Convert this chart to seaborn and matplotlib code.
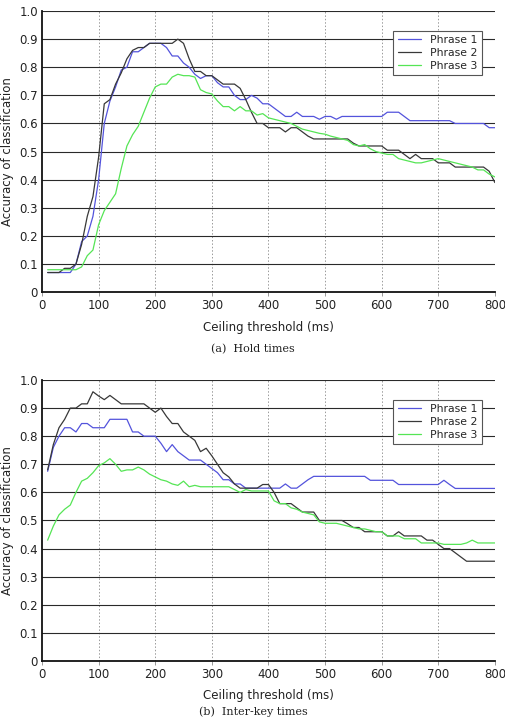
import numpy as np
import pandas as pd
import matplotlib
matplotlib.use("Agg")
import matplotlib.pyplot as plt
import seaborn as sns

thresholds = list(range(10, 810, 10))
series_names = ["Phrase 1", "Phrase 2", "Phrase 3"]

hold_p1 = [0.07,0.07,0.07,0.07,0.07,0.10,0.18,0.20,0.27,0.40,
           0.60,0.68,0.73,0.79,0.80,0.855,0.855,0.87,0.885,0.885,
           0.885,0.87,0.84,0.84,0.815,0.80,0.775,0.76,0.77,0.77,
           0.745,0.73,0.73,0.70,0.685,0.685,0.70,0.69,0.67,0.67,
           0.655,0.64,0.625,0.625,0.64,0.625,0.625,0.625,0.615,0.625,
           0.625,0.615,0.625,0.625,0.625,0.625,0.625,0.625,0.625,0.625,
           0.64,0.64,0.64,0.625,0.61,0.61,0.61,0.61,0.61,0.61,
           0.61,0.61,0.60,0.60,0.60,0.60,0.60,0.60,0.585,0.585]
hold_p2 = [0.07,0.07,0.07,0.085,0.085,0.10,0.17,0.27,0.34,0.48,
           0.67,0.685,0.74,0.78,0.83,0.86,0.87,0.87,0.885,0.885,
           0.885,0.885,0.885,0.90,0.885,0.83,0.785,0.785,0.77,0.77,
           0.755,0.74,0.74,0.74,0.725,0.685,0.64,0.60,0.60,0.585,
           0.585,0.585,0.57,0.585,0.585,0.57,0.555,0.545,0.545,0.545,
           0.545,0.545,0.545,0.545,0.53,0.52,0.52,0.52,0.52,0.52,
           0.505,0.505,0.505,0.49,0.475,0.49,0.475,0.475,0.475,0.46,
           0.46,0.46,0.445,0.445,0.445,0.445,0.445,0.445,0.43,0.39]
hold_p3 = [0.08,0.08,0.08,0.08,0.08,0.08,0.09,0.13,0.15,0.24,
           0.29,0.32,0.35,0.44,0.52,0.56,0.59,0.64,0.69,0.73,
           0.74,0.74,0.765,0.775,0.77,0.77,0.765,0.72,0.71,0.705,
           0.68,0.66,0.66,0.645,0.66,0.645,0.645,0.63,0.635,0.62,
           0.615,0.61,0.605,0.60,0.59,0.58,0.575,0.57,0.565,0.562,
           0.555,0.55,0.545,0.54,0.525,0.52,0.525,0.51,0.50,0.495,
           0.49,0.49,0.475,0.47,0.465,0.46,0.46,0.465,0.47,0.475,
           0.47,0.465,0.46,0.455,0.45,0.445,0.435,0.435,0.42,0.41]

ik_p1 = [0.675,0.76,0.80,0.83,0.83,0.815,0.845,0.845,0.83,0.83,
         0.83,0.86,0.86,0.86,0.86,0.815,0.815,0.80,0.80,0.80,
         0.775,0.745,0.77,0.745,0.73,0.715,0.715,0.715,0.70,0.685,
         0.67,0.645,0.645,0.63,0.63,0.615,0.615,0.615,0.615,0.615,
         0.615,0.615,0.63,0.615,0.615,0.63,0.645,0.657,0.657,0.657,
         0.657,0.657,0.657,0.657,0.657,0.657,0.657,0.643,0.643,0.643,
         0.643,0.643,0.628,0.628,0.628,0.628,0.628,0.628,0.628,0.628,
         0.643,0.628,0.614,0.614,0.614,0.614,0.614,0.614,0.614,0.614]
ik_p2 = [0.68,0.77,0.83,0.86,0.90,0.90,0.915,0.915,0.958,0.943,
         0.93,0.945,0.93,0.915,0.915,0.915,0.915,0.915,0.90,0.885,
         0.90,0.87,0.845,0.845,0.815,0.80,0.785,0.745,0.757,0.73,
         0.70,0.67,0.655,0.63,0.615,0.615,0.615,0.615,0.628,0.628,
         0.60,0.56,0.56,0.56,0.545,0.53,0.53,0.53,0.50,0.50,
         0.50,0.50,0.50,0.488,0.475,0.475,0.46,0.46,0.46,0.46,
         0.445,0.445,0.46,0.445,0.445,0.445,0.445,0.43,0.43,0.415,
         0.40,0.40,0.385,0.37,0.355,0.355,0.355,0.355,0.355,0.355]
ik_p3 = [0.43,0.48,0.52,0.54,0.555,0.60,0.64,0.65,0.67,0.695,
         0.705,0.72,0.70,0.675,0.68,0.68,0.69,0.68,0.665,0.655,
         0.645,0.64,0.63,0.625,0.64,0.62,0.625,0.62,0.62,0.62,
         0.62,0.62,0.62,0.61,0.60,0.61,0.605,0.605,0.605,0.605,
         0.57,0.56,0.56,0.545,0.54,0.53,0.525,0.52,0.495,0.49,
         0.49,0.49,0.485,0.48,0.475,0.47,0.47,0.465,0.46,0.46,
         0.445,0.445,0.445,0.435,0.435,0.435,0.42,0.42,0.42,0.42,
         0.415,0.415,0.415,0.415,0.42,0.43,0.42,0.42,0.42,0.42]

x_ticks = [0, 100, 200, 300, 400, 500, 600, 700, 800]
y_ticks = [0, 0.1, 0.2, 0.3, 0.4, 0.5, 0.6, 0.7, 0.8, 0.9, 1.0]
y_tick_labels = ["0", "0.1", "0.2", "0.3", "0.4", "0.5", "0.6", "0.7", "0.8", "0.9", "1.0"]
captions = ["(a)  Hold times", "(b)  Inter-key times"]
x_label = "Ceiling threshold (ms)"
y_label = "Accuracy of classification"

palette = {"Phrase 1": "#5353dc", "Phrase 2": "#383838", "Phrase 3": "#55e555"}

sns.set_theme(style="white")
plt.rcParams["font.family"] = ["DejaVu Sans"]

fig = plt.figure(figsize=(5.06, 7.18), dpi=100)
ax_top = fig.add_axes([0.083, 0.593, 0.895, 0.3917])
ax_bot = fig.add_axes([0.083, 0.0794, 0.895, 0.3914])


def make_df(p1, p2, p3):
    frames = []
    for name, vals in zip(series_names, [p1, p2, p3]):
        frames.append(pd.DataFrame({"threshold": thresholds, "accuracy": vals, "series": name}))
    return pd.concat(frames, ignore_index=True)


panels = [(ax_top, make_df(hold_p1, hold_p2, hold_p3)),
          (ax_bot, make_df(ik_p1, ik_p2, ik_p3))]

for ax, df in panels:
    for yv in y_ticks[1:]:
        ax.axhline(yv, color="#2a2a2a", lw=0.8, zorder=0.5)
    for xv in x_ticks[1:]:
        ax.axvline(xv, color="#9a9a9a", lw=0.7, ls=(0, (1.5, 2)), zorder=0.4)
    sns.lineplot(data=df, x="threshold", y="accuracy", hue="series",
                 palette=palette, linewidth=0.9, ax=ax, zorder=3)
    ax.set_xlim(0, 800)
    ax.set_ylim(0, 1.0)
    ax.set_xticks(x_ticks)
    ax.set_xticklabels([str(v) for v in x_ticks], fontsize=8.5, color="#222222")
    ax.set_yticks(y_ticks)
    ax.set_yticklabels(y_tick_labels, fontsize=8.5, color="#222222")
    ax.set_xlabel(x_label, fontsize=8.5, color="#222222", labelpad=6)
    ax.set_ylabel(y_label, fontsize=8.5, color="#222222", labelpad=4)
    ax.tick_params(axis="x", which="major", direction="out", length=3, width=0.6,
                   color="#888888", bottom=True, pad=2)
    ax.tick_params(axis="y", which="major", length=0, pad=3)
    for side in ["top", "right"]:
        ax.spines[side].set_visible(False)
    for side in ["left", "bottom"]:
        ax.spines[side].set_color("#111111")
        ax.spines[side].set_linewidth(1.3)
    leg = ax.legend(loc="upper right", bbox_to_anchor=(0.971, 0.929), fontsize=7.8,
                    frameon=True, fancybox=False, handlelength=2.2, handletextpad=0.8,
                    borderpad=0.4, labelspacing=0.25, borderaxespad=0)
    leg.get_frame().set_edgecolor("#555555")
    leg.get_frame().set_linewidth(0.8)
    leg.get_frame().set_facecolor("white")
    leg.get_frame().set_alpha(1.0)
    for line in leg.get_lines():
        line.set_linewidth(0.9)

fig.text(0.5, 1 - 349 / 718, captions[0], ha="center", va="center",
         fontsize=8, family=["DejaVu Serif"], color="#222222")
fig.text(0.5, 1 - 717 / 718, captions[1], ha="center", va="bottom",
         fontsize=8, family=["DejaVu Serif"], color="#222222")

fig.savefig("out.png", dpi=100)
